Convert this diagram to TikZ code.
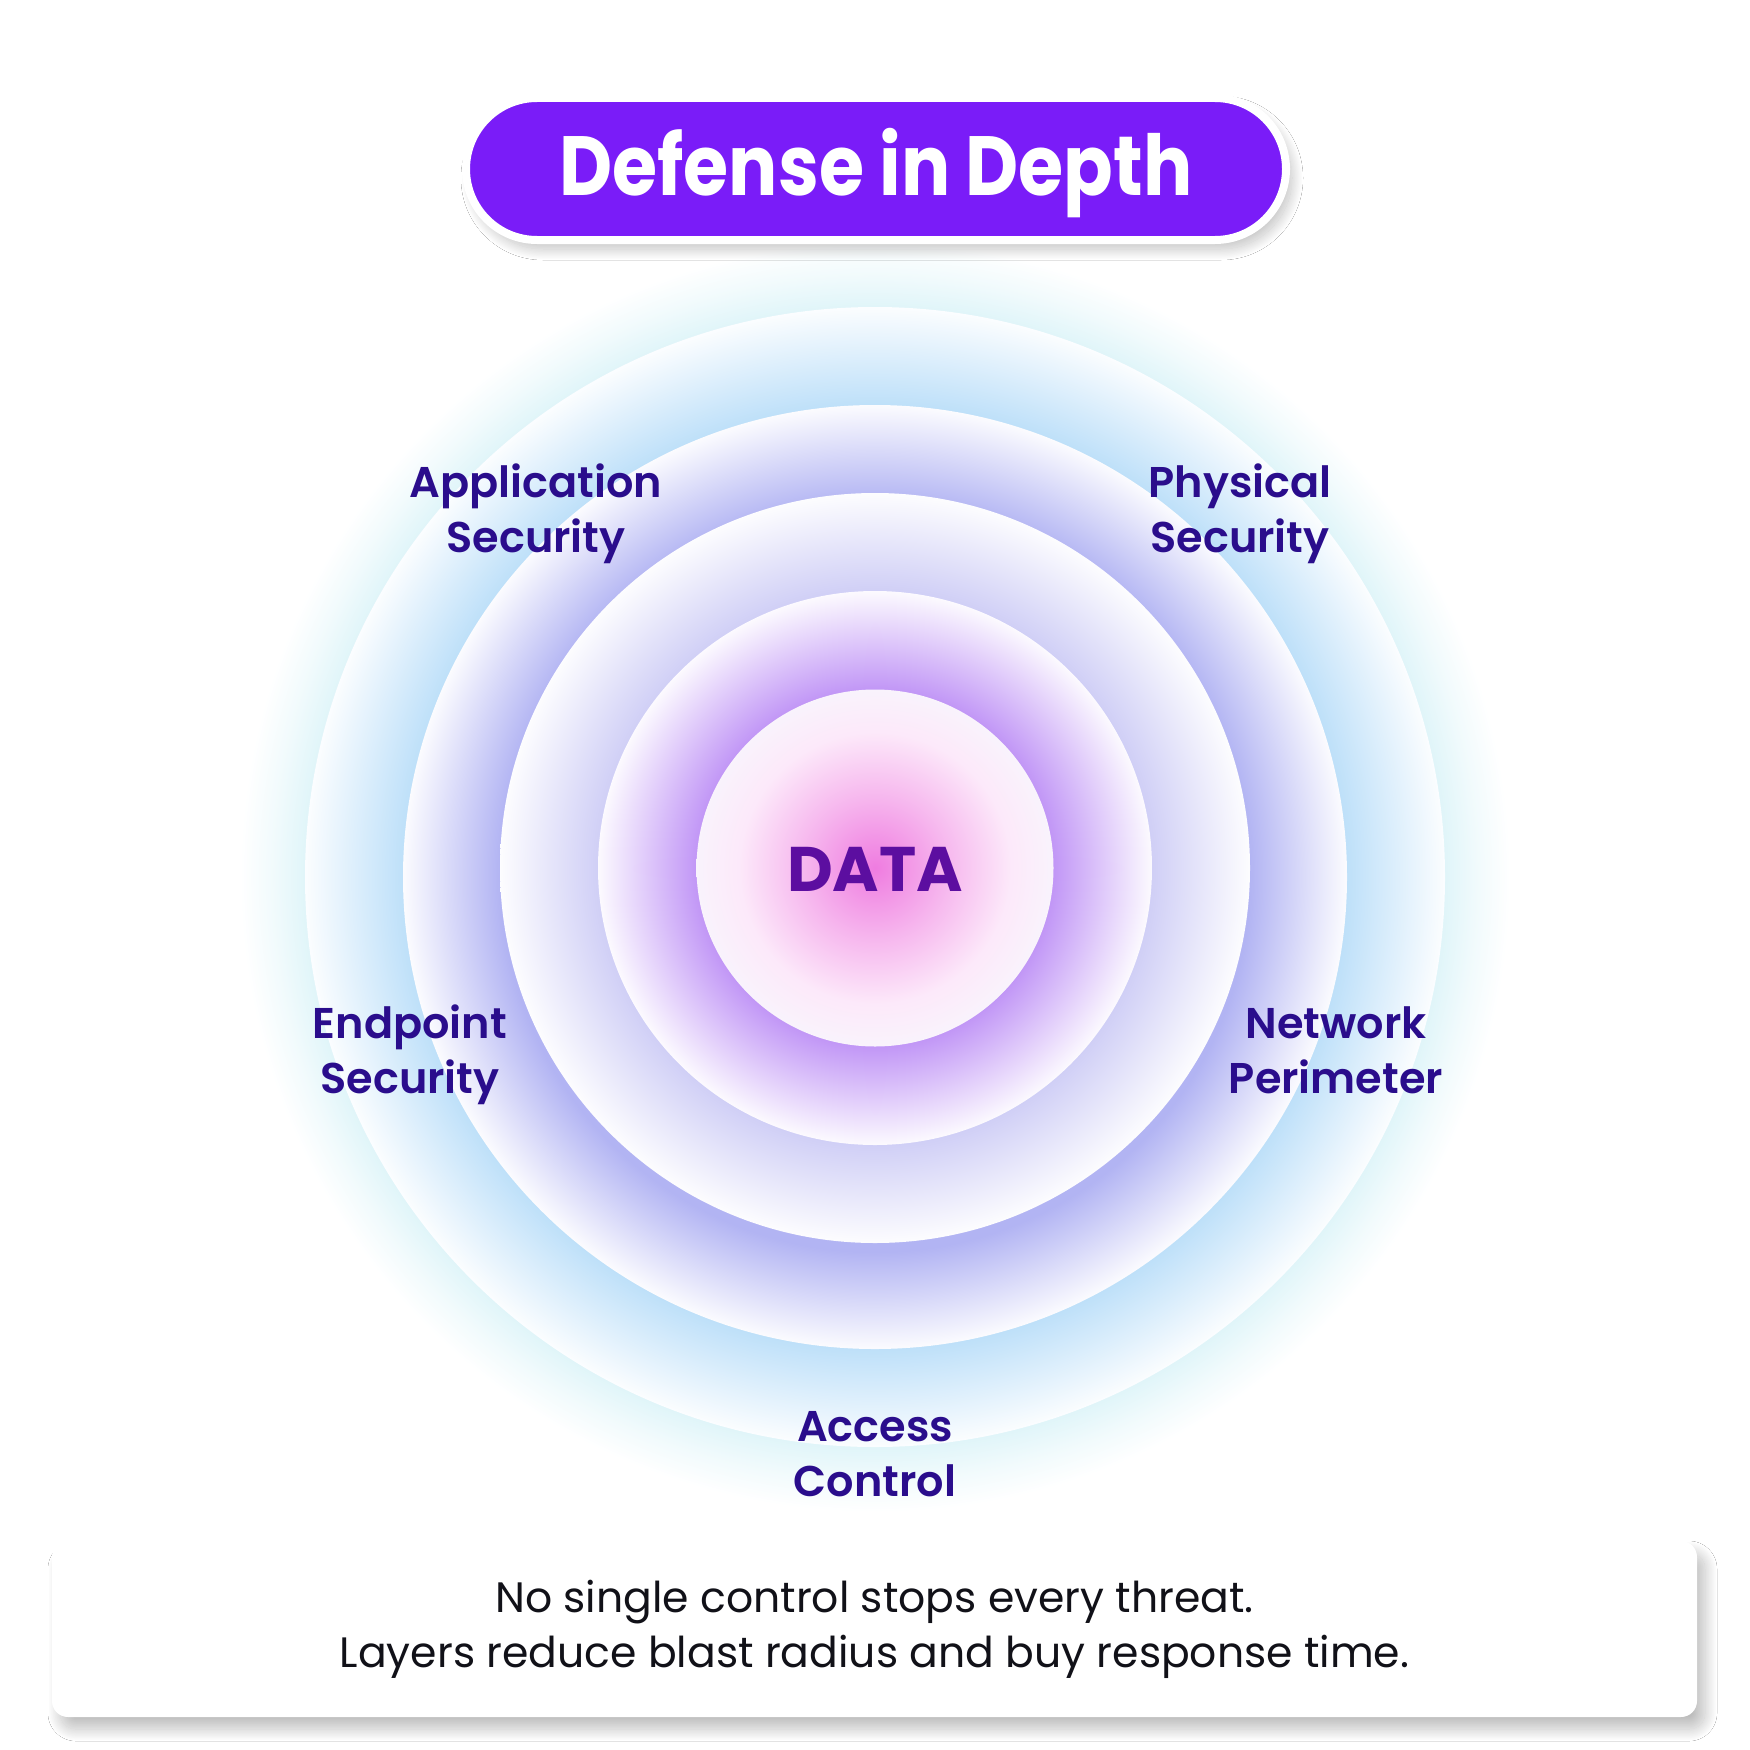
\documentclass[tikz,border=0pt]{standalone}
\usepackage{fontspec}
\setmainfont{Poppins}
\newfontfamily\titlefont{Poppins}[FakeStretch=0.87]
\newfontfamily\labfont{Poppins}[UprightFont={* SemiBold}]
\usetikzlibrary{shadows.blur}

\definecolor{titlec}{RGB}{122,28,248}
\definecolor{labc}{RGB}{42,13,140}
\definecolor{datac}{RGB}{92,14,160}
\definecolor{notec}{RGB}{17,17,24}
\definecolor{cglow}{RGB}{224,245,249}
\definecolor{cfive}{RGB}{190,224,249}
\definecolor{cfour}{RGB}{178,180,243}
\definecolor{cthree}{RGB}{208,207,246}
\definecolor{ctwo}{RGB}{193,150,246}
\definecolor{cpink}{RGB}{239,124,224}
\definecolor{cdedge}{RGB}{249,243,252}

% the circle's edge sits at 25bp of the shading
\pgfdeclareradialshading{shglow}{\pgfpointorigin}{color(0bp)=(cglow); color(22.44bp)=(cglow); color(23.7bp)=(cglow!45!white); color(25bp)=(white); color(50bp)=(white)}
\pgfdeclareradialshading{shfive}{\pgfpointorigin}{color(0bp)=(cfive); color(20.7bp)=(cfive); color(25bp)=(cfive!6!white); color(50bp)=(cfive!6!white)}
\pgfdeclareradialshading{shfour}{\pgfpointorigin}{color(0bp)=(cfour); color(19.86bp)=(cfour); color(25bp)=(cfour!5!white); color(50bp)=(cfour!5!white)}
\pgfdeclareradialshading{shthree}{\pgfpointorigin}{color(0bp)=(cthree); color(18.47bp)=(cthree); color(25bp)=(cthree!5!white); color(50bp)=(cthree!5!white)}
\pgfdeclareradialshading{shtwo}{\pgfpointorigin}{color(0bp)=(ctwo); color(16.06bp)=(ctwo); color(25bp)=(ctwo!5!white); color(50bp)=(ctwo!5!white)}
\pgfdeclareradialshading{shdata}{\pgfpointorigin}{color(0bp)=(cpink); color(10bp)=(cpink!55!white); color(19bp)=(cpink!17!white); color(25bp)=(cdedge); color(50bp)=(cdedge)}

\tikzset{
  lbl/.style={align=center, text=labc, inner sep=0pt,
    font=\labfont\fontsize{43}{55}\selectfont},
  titlebox/.style={rounded corners=71pt, minimum width=820pt, minimum height=142pt,
    fill=titlec, draw=white, line width=8pt, text=white, inner sep=0pt,
    text height=62pt, text depth=10pt,
    font=\titlefont\bfseries\fontsize{84}{90}\selectfont,
    blur shadow={shadow xshift=6pt, shadow yshift=-9pt, shadow blur radius=11pt, shadow blur steps=40, shadow opacity=25}},
  notebox/.style={rounded corners=16pt, minimum width=1645pt, minimum height=176pt,
    fill=white, align=center, text=notec, inner sep=0pt,
    font=\fontsize{42.5}{55}\selectfont,
    blur shadow={shadow xshift=8pt, shadow yshift=-12pt, shadow blur radius=12pt, shadow blur steps=40, shadow opacity=26}},
  datanode/.style={circle, minimum size=357pt, inner sep=0pt, shading=shdata,
    text=datac, text height=46pt, text depth=0pt,
    font=\bfseries\fontsize{63}{70}\selectfont}
}

\begin{document}
\begin{tikzpicture}[x=1pt,y=1pt]
\useasboundingbox (0,0) rectangle (1750,-1750);
\fill[white] (0,0) rectangle (1750,-1750);

% rings
\shade[shading=shglow] (875,-877) circle[radius=635pt];
\shade[shading=shfive] (875,-877) circle[radius=570pt];
\shade[shading=shfour] (875,-877) circle[radius=472pt];
\shade[shading=shthree] (875,-868) circle[radius=375pt];
\shade[shading=shtwo] (875,-868) circle[radius=277pt];
\node[datanode] (data) at (875,-868) {DATA};

% title
\node[titlebox] (title) at (876,-169) {Defense in Depth};

% layer labels
\node[lbl] (app) at (536,-514) {Application\\Security};
\node[lbl] (phys) at (1240,-514) {Physical\\Security};
\node[lbl] (endp) at (410,-1055) {Endpoint\\Security};
\node[lbl] (net) at (1336,-1050) {Network\\Perimeter};
\node[lbl] (acc) at (875,-1454) {Access\\Control};

% note
\node[notebox] (note) at (874.5,-1629) {No single control stops every threat.\\Layers reduce blast radius and buy response time.};
\end{tikzpicture}
\end{document}
